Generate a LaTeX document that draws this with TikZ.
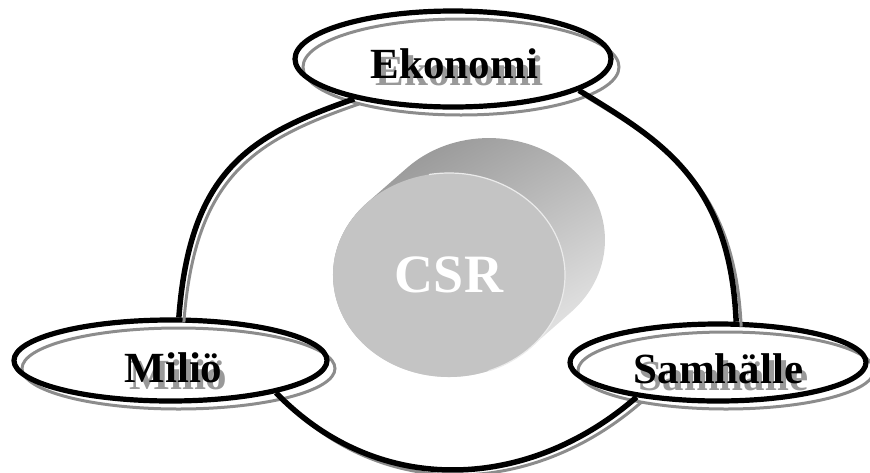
\documentclass[tikz,border=0pt]{standalone}
\usepackage{fontspec}
\setmainfont{Liberation Serif}
\usepackage{xcolor}
\usetikzlibrary{shapes.geometric}
\tikzset{
    topic-oval/.style = {draw, ellipse, line width=5.2pt, inner sep=0pt},
    oval-shadow/.style = {topic-oval, draw=black!45, line width=3pt, transform canvas={shift={(4pt,-4pt)}}},
    topic-title/.style = {anchor=base, inner sep=0pt, font=\bfseries\fontsize{43}{50}\selectfont},
    link-line/.style = {draw=black, line width=5.5pt},
    link-shadow/.style = {draw=black!45, line width=3pt},
    csr-face/.style = {ellipse, fill=black!23, inner sep=0pt, minimum width=232pt, minimum height=204pt,
        text=white, font=\bfseries\fontsize{54}{60}\selectfont},
}
\newcommand{\castshadow}[1]{\makebox[0pt][l]{\hspace{5pt}\raisebox{-7pt}{\color{black!40}#1}}#1}

\begin{document}
\begin{tikzpicture}[x=1pt, y=1pt]
\useasboundingbox (0,0) rectangle (870,-472);

\shade[top color=black!42, bottom color=black!8, shading angle=30]
    (367.1,-202.8) -- ++(40,35) arc[start angle=134.9, end angle=-45.1, x radius=116, y radius=102]
    -- ++(-40,-35) arc[start angle=-45.1, end angle=-225.1, x radius=116, y radius=102] -- cycle;
\node[csr-face] (csr) at (449,-275) {CSR};
\draw[black!8, line width=1.2pt] (449,-275) ++(100:116pt and 102pt)
    arc[start angle=100, end angle=-70, x radius=116, y radius=102];

\foreach \sty/\sfx in {oval-shadow/-s, topic-oval/} {
    \node[\sty, minimum width=316pt, minimum height=96pt] (eko\sfx) at (453,-59) {};
    \node[\sty, minimum width=313pt, minimum height=81pt] (milio\sfx) at (170.5,-360.5) {};
    \node[\sty, minimum width=296pt, minimum height=77pt] (samh\sfx) at (718,-362.5) {};
}

\node[topic-title] (eko-title) at (454.5,-78) {\castshadow{Ekonomi}};
\node[topic-title] (milio-title) at (173.5,-382) {\castshadow{Miliö}};
\node[topic-title] (samh-title) at (718.5,-383) {\castshadow{Samhälle}};

\foreach \sty/\dx/\dy in {link-shadow/5/-5, link-line/0/0} {
    \begin{scope}[shift={(\dx,\dy)}]
    \draw[\sty] ([shift={(\dx,\dy)}]eko.202) .. controls (250,-135) and (190,-170) .. ([shift={(\dx,\dy)}]milio.79);
    \draw[\sty] ([shift={(\dx,\dy)}]eko.346) .. controls (660,-140) and (730,-180) .. ([shift={(\dx,\dy)}]samh.66);
    \draw[\sty] ([shift={(\dx,\dy)}]milio.-17) .. controls (380,-500) and (530,-490) .. ([shift={(\dx,\dy)}]samh.203);
    \end{scope}
}
\end{tikzpicture}
\end{document}
